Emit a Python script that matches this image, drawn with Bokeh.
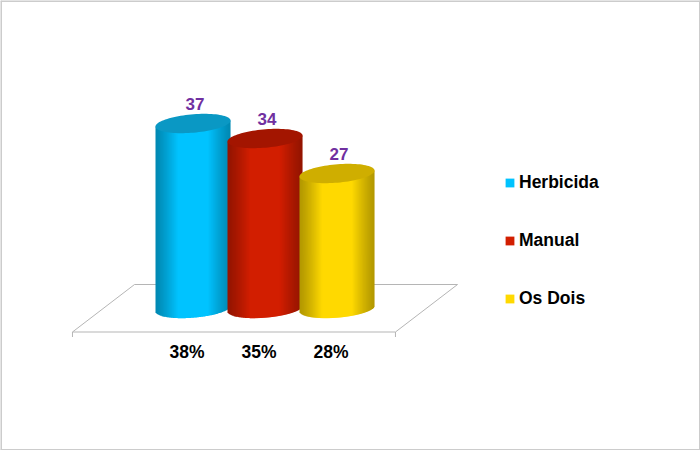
import numpy as np
from bokeh.plotting import figure
from bokeh.models import Range1d, Legend, LegendItem
from bokeh.core.properties import value
from bokeh.embed import file_html
from bokeh.resources import INLINE

categories = ["Herbicida", "Manual", "Os Dois"]
values = [37, 34, 27]
percents = ["38%", "35%", "28%"]
colors = ["#00C3FF", "#D21E00", "#FFD900"]
cap_colors = ["#0A98C4", "#A31500", "#CFAE00"]

# scales: one category step = 72 px, one value unit = 5 px
XU, YU = 72.0, 5.0
W, H = 700, 450
x0 = -192.5 / XU
x1 = x0 + W / XU
y1 = 308 / YU
y0 = y1 - H / YU

p = figure(width=W, height=H, output_backend="svg", toolbar_location=None,
           x_range=Range1d(x0, x1), y_range=Range1d(y0, y1),
           min_border=0, outline_line_color=None, background_fill_color="white")
p.axis.visible = False
p.grid.visible = False

# floor
GRAY = "#B5B5B5"
floor_x = [-1.674, 2.812, 3.674, -0.8125]
floor_y = [-4.7, -4.7, 4.8, 4.8]
p.patch(floor_x, floor_y, fill_color="white", line_color=GRAY, line_width=1)
p.segment([floor_x[0], floor_x[1]], [floor_y[0]] * 2, [floor_x[0], floor_x[1]], [floor_y[0] - 1] * 2,
          line_color=GRAY, line_width=1)

A = 37.5 / XU      # half width
B = 9.2 / YU       # cap half height
S = 3.0 / YU       # tilt
STEP = 1.0 / XU


def scale(hex_color, k):
    r, g, b = [int(hex_color[i:i + 2], 16) for i in (1, 3, 5)]
    return "#%02X%02X%02X" % (int(r * k), int(g * k), int(b * k))


renderers = []
for i, (v, c, cc) in enumerate(zip(values, colors, cap_colors)):
    lefts = np.arange(i - A, i + A - 1e-9, STEP)
    u = (lefts + STEP / 2 - i) / A
    tops = v + S * u
    bottoms = S * u - B * np.sqrt(np.clip(1 - u ** 2, 0, 1))
    shade = 0.70 + 0.30 * np.clip((1 - np.abs(u)) / 0.6, 0, 1) ** 1.2
    p.quad(left=lefts, right=np.minimum(lefts + 1.6 * STEP, i + A), top=tops, bottom=bottoms,
           fill_color=[scale(c, k) for k in shade], line_color=None)
    t = np.linspace(0, 2 * np.pi, 90)
    p.patch(i + A * np.cos(t), v + B * np.sin(t) + S * np.cos(t), fill_color=cc, line_color=None)
    r = p.quad(left=[np.nan], right=[np.nan], top=[np.nan], bottom=[np.nan], fill_color=c, line_color=None)
    renderers.append(r)

xs = list(range(len(values)))
p.text(xs, values, text=[str(v) for v in values], text_font=value("Liberation Sans"),
       text_font_style="bold", text_font_size="17px", text_color="#7030A0",
       text_align="center", text_baseline="middle", x_offset=2, y_offset=-19.5)
p.text(xs, [0] * 3, text=percents, text_font=value("Liberation Sans"),
       text_font_style="bold", text_font_size="17.5px", text_color="black",
       text_align="center", text_baseline="middle", x_offset=-6, y_offset=43)

legend = Legend(items=[LegendItem(label=n, renderers=[r]) for n, r in zip(categories, renderers)],
                location=(504, 141), orientation="vertical",
                border_line_color=None, background_fill_alpha=0, padding=0, margin=0,
                glyph_width=11, glyph_height=11, label_standoff=4, spacing=37,
                label_text_font="Liberation Sans", label_text_font_style="bold",
                label_text_font_size="17.5px", label_text_color="black", label_height=20)
p.add_layout(legend, "center")

# picture frame along all four edges
p.segment([x0, x0, x1, x0], [y1, y1, y1, y0], [x1, x0, x1, x1], [y1, y0, y0, y0],
          line_color="#CCCCCC", line_width=3)

open("out.html", "w").write(file_html(p, INLINE))
